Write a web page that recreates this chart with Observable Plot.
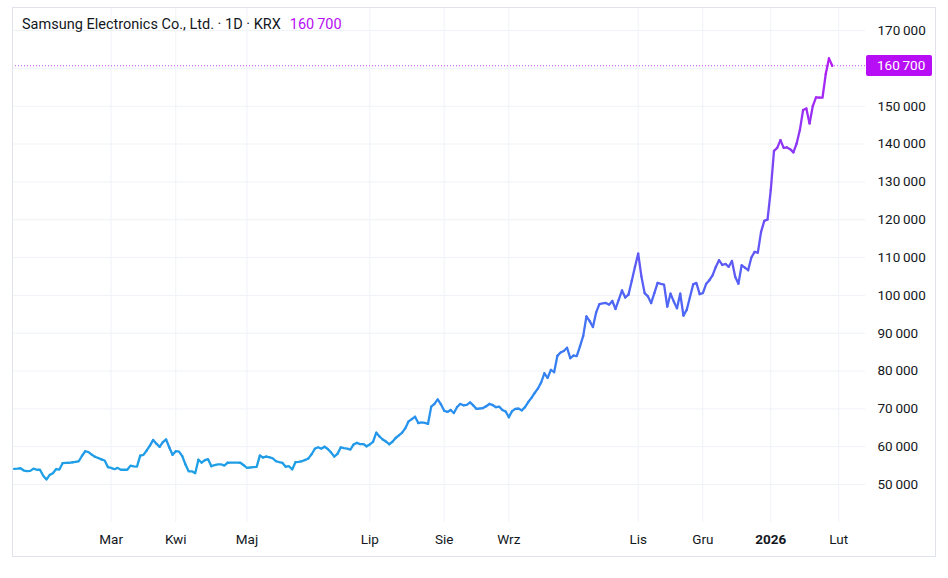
<!DOCTYPE html>
<html><head><meta charset="utf-8">
<script src="https://cdn.jsdelivr.net/npm/d3@7"></script>
<script src="https://cdn.jsdelivr.net/npm/@observablehq/plot@0.6"></script>
<style>
body{margin:0;background:#fff;font-family:Roboto,"Noto Sans",sans-serif;}
#wrap{position:relative;width:948px;height:578px;overflow:hidden;}
#frame{position:absolute;left:12px;top:7px;width:922px;height:548px;border:1px solid #e0e3eb;pointer-events:none;}
#title{position:absolute;left:22px;top:16px;font-size:14.5px;line-height:18px;color:#131722;white-space:pre;}
#title .last{color:#b80ef5;margin-left:9px;}
#badge{position:absolute;left:866px;width:66px;height:21px;background:#b80ef5;color:#fff;border-radius:2px;font-size:13.5px;line-height:21px;padding-left:11px;box-sizing:border-box;}
</style></head><body>
<div id="wrap"><div id="chart"></div><div id="frame"></div><div id="title"></div><div id="badge"></div></div>
<script>
// Daily closes (KRW), one per trading day, from mid-January 2025 to end of January 2026
const firstBar = -30; // trading-day index of the first close, relative to the first March session
const prices = [
  54150, 54200, 54300, 53700, 53550, 53600, 54200, 53900, 53900, 52300,
  51300, 52550, 53000, 54100, 53950, 55650, 55700, 55750, 55850, 56000,
  56150, 57600, 58800, 58550, 57900, 57350, 57000, 56650, 56350, 54600,
  54400, 54050, 54400, 53900, 53900, 53900, 55000, 54800, 54750, 57650,
  57850, 59000, 60300, 61800, 60800, 59950, 61200, 61900, 59800, 57850,
  58800, 58700, 57500, 55300, 53450, 53500, 53000, 56550, 55800, 56450,
  56700, 54850, 55100, 55300, 55350, 55000, 55750, 55800, 55800, 55800,
  55750, 55100, 54400, 54500, 54600, 54650, 57650, 57150, 57400, 57200,
  56900, 56150, 55900, 55700, 54700, 54850, 53950, 55900, 56000, 56150,
  56500, 56900, 58000, 59450, 59850, 59450, 60000, 59400, 58500, 57400,
  58100, 59800, 59600, 59500, 59250, 60600, 61000, 60700, 60700, 60100,
  60600, 61300, 63700, 62700, 61900, 61350, 60650, 61300, 62300, 63000,
  63700, 64900, 66700, 67300, 67900, 66250, 66400, 66300, 66050, 70600,
  71300, 72500, 71200, 69500, 69200, 69700, 68900, 70500, 71300, 70950,
  71050, 71700, 70900, 70000, 70100, 70200, 70700, 71300, 71000, 70450,
  70600, 69700, 69300, 67800, 69400, 70000, 70100, 69600, 70450, 71800,
  72900, 74200, 75400, 77000, 79400, 78200, 80300, 79700, 84000, 84900,
  85300, 86150, 83400, 84100, 83950, 86500, 89300, 94450, 93200, 91650,
  95500, 97700, 97900, 98000, 97500, 98500, 96400, 98850, 101300, 99450,
  100200, 103800, 107500, 111050, 105000, 100600, 99750, 97950, 100600, 103300,
  103050, 102850, 97050, 100450, 98400, 96600, 100450, 94650, 96150, 99500,
  102900, 103300, 100350, 100600, 103000, 104000, 105300, 107500, 109300, 108050,
  108300, 107550, 109100, 104900, 103100, 107950, 107350, 106650, 110000, 111500,
  111300, 116800, 119700, 120050, 127800, 138200, 139000, 141050, 139000, 139100,
  138650, 137800, 140150, 143700, 149000, 149400, 145450, 150050, 152350, 152300,
  152250, 158500, 162650, 160700
];
const monthTicks = [0, 20, 42, 80, 103, 123, 163, 183, 204, 225];
const monthLabels = ["Mar", "Kwi", "Maj", "Lip", "Sie", "Wrz", "Lis", "Gru", "2026", "Lut"];
const yearTicks = [204];
const yTicks = [50000, 60000, 70000, 80000, 90000, 100000, 110000, 120000, 130000, 140000, 150000, 160000, 170000];
const titleText = "Samsung Electronics Co., Ltd. · 1D · KRX";
const colorStops = [55000, 72000, 95000, 125000, 162000];
const colorRange = ["#1e9fe6", "#2c8cf0", "#4a6af5", "#7648f5", "#b41cf3"];

const data = prices.map((p, k) => ({bar: firstBar + k, price: p}));
const last = prices[prices.length - 1];
const fmt = v => d3.format(",")(v).replace(/,/g, "\u2009");
const labelOf = d => monthLabels[monthTicks.indexOf(d)];
// the last-price badge covers the tick label that sits under it
const yLabelTicks = yTicks.filter(t => Math.abs(t - last) > 3000);

const chart = Plot.plot({
  width: 948, height: 578,
  marginLeft: 12, marginRight: 83, marginTop: 7, marginBottom: 56,
  style: {fontFamily: "Roboto, 'Noto Sans', sans-serif", fontSize: "13.5px", color: "#131722", background: "#fff"},
  x: {domain: [-30.5, 233.3]},
  y: {domain: [39960, 176100]},
  color: {type: "linear", domain: colorStops, range: colorRange, clamp: true},
  marks: [
    Plot.gridY(yTicks, {stroke: "#eff2f7", strokeOpacity: 1}),
    Plot.gridX(monthTicks, {stroke: "#eff2f7", strokeOpacity: 1}),
    Plot.ruleY([last], {stroke: "#c04af5", strokeDasharray: "1,2", strokeWidth: 1}),
    Plot.line(data, {x: "bar", y: "price", z: null, stroke: "price", strokeWidth: 2.3, strokeLinejoin: "round"}),
    Plot.axisY(yLabelTicks, {anchor: "right", label: null, tickSize: 0, tickPadding: 12, tickFormat: fmt, textAnchor: "start", fontSize: 13.5, fill: "#131722"}),
    Plot.axisX(monthTicks.filter(d => !yearTicks.includes(d)), {label: null, tickSize: 0, tickPadding: 12, tickFormat: labelOf, fontSize: 13.5, fill: "#131722"}),
    Plot.axisX(yearTicks, {label: null, tickSize: 0, tickPadding: 12, tickFormat: labelOf, fontSize: 13.5, fontWeight: "bold", fill: "#131722"})
  ]
});
document.getElementById("chart").appendChild(chart);

const title = document.getElementById("title");
title.textContent = titleText;
const lastSpan = document.createElement("span");
lastSpan.className = "last";
lastSpan.textContent = fmt(last);
title.appendChild(lastSpan);

const badge = document.getElementById("badge");
badge.textContent = fmt(last);
badge.style.top = (chart.scale("y").apply(last) - 10.5) + "px";
</script>
</body></html>
